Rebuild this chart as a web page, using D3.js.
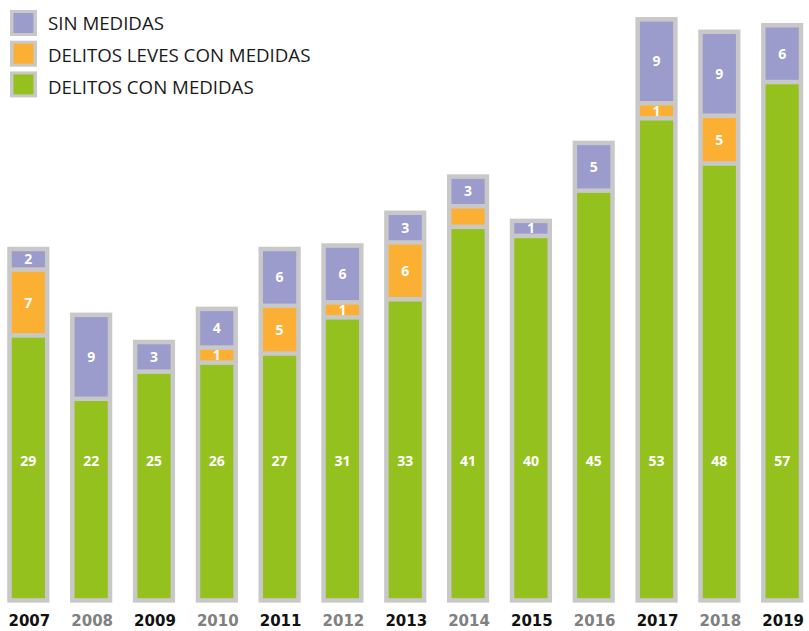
<!DOCTYPE html>
<html lang="es">
<head>
  <meta charset="UTF-8">
  <title>Delitos con y sin medidas</title>
  <script src="https://d3js.org/d3.v7.min.js"></script>
  <style>
    body { margin: 0; background: #fff; }
    .seg-label {
      font-family: "Open Sans", sans-serif;
      font-weight: bold;
      font-size: 14px;
      fill: #fff;
      text-anchor: middle;
    }
    .year {
      font-family: "DejaVu Sans", sans-serif;
      font-weight: bold;
      font-size: 15px;
      text-anchor: middle;
    }
    .legend-text {
      font-family: "Open Sans", sans-serif;
      font-size: 18.7px;
      fill: #1a1a1a;
    }
  </style>
</head>
<body>
  <div id="chart"></div>
  <script>
    const years = ["2007", "2008", "2009", "2010", "2011", "2012", "2013",
                   "2014", "2015", "2016", "2017", "2018", "2019"];
    const conMedidas = [29, 22, 25, 26, 27, 31, 33, 41, 40, 45, 53, 48, 57];
    const levesConMedidas = [7, 0, 0, 1, 5, 1, 6, 2, 0, 0, 1, 5, 0];
    const sinMedidas = [2, 9, 3, 4, 6, 6, 3, 3, 1, 5, 9, 9, 6];
    // the 2014 orange block has no number printed on it
    const hiddenLabels = [["2014", "leves"]];

    const series = [
      { key: "con", name: "DELITOS CON MEDIDAS", values: conMedidas, color: "#95c11f" },
      { key: "leves", name: "DELITOS LEVES CON MEDIDAS", values: levesConMedidas, color: "#fbb034" },
      { key: "sin", name: "SIN MEDIDAS", values: sinMedidas, color: "#9b9bcc" }
    ];

    const width = 809, height = 631;
    const border = "#c8c8c8";
    const gap = 4.5;       // grey frame / separator thickness
    const segPad = 2.5;    // each block grows by its frame
    const minSeg = 15;     // small blocks stay tall enough for their number

    const svg = d3.select("#chart").append("svg")
      .attr("width", width)
      .attr("height", height);

    const x = d3.scaleBand()
      .domain(years)
      .range([9.5, 801])
      .paddingInner(0.4)
      .paddingOuter(0);

    const baseline = 600.4;
    const y = d3.scaleLinear()
      .domain([0, 10])
      .range([baseline, baseline - 90.5]);

    // build stacked blocks
    const bars = years.map((yr, i) => {
      let bottom = baseline;
      const segs = [];
      series.forEach(s => {
        const v = s.values[i];
        if (!v) return;
        const h = Math.max(y(0) - y(v) + segPad, minSeg);
        const top = bottom - h;
        segs.push({ year: yr, key: s.key, value: v, color: s.color, top, bottom });
        bottom = top;
      });
      return { year: yr, segs, top: bottom };
    });

    const g = svg.selectAll(".bar")
      .data(bars)
      .enter().append("g")
      .attr("class", "bar");

    // grey frame
    g.append("rect")
      .attr("x", d => x(d.year) - gap / 2)
      .attr("width", x.bandwidth() + gap)
      .attr("y", d => d.top - gap / 2)
      .attr("height", d => baseline - d.top + gap)
      .attr("fill", border);

    const seg = g.selectAll(".seg")
      .data(d => d.segs)
      .enter().append("g")
      .attr("class", "seg");

    seg.append("rect")
      .attr("x", d => x(d.year) + gap / 2)
      .attr("width", x.bandwidth() - gap)
      .attr("y", d => d.top + gap / 2)
      .attr("height", d => d.bottom - d.top - gap)
      .attr("fill", d => d.color);

    seg.filter(d => !hiddenLabels.some(h => h[0] === d.year && h[1] === d.key))
      .append("text")
      .attr("class", "seg-label")
      .attr("x", d => x(d.year) + x.bandwidth() / 2)
      .attr("y", d => d.key === "con" ? 466 : (d.top + d.bottom) / 2 + 5)
      .text(d => d.value);

    // year labels
    svg.selectAll(".year")
      .data(years)
      .enter().append("text")
      .attr("class", "year")
      .attr("x", d => x(d) + x.bandwidth() / 2 + 1)
      .attr("y", 626)
      .attr("fill", (d, i) => i % 2 === 0 ? "#111" : "#808080")
      .text(d => d);

    // legend
    const legendItems = series.slice().reverse();
    const lg = svg.selectAll(".legend")
      .data(legendItems)
      .enter().append("g")
      .attr("class", "legend");

    lg.append("rect")
      .attr("x", 10)
      .attr("y", (d, i) => 10 + i * 30.7)
      .attr("width", 27).attr("height", 26)
      .attr("fill", border);
    lg.append("rect")
      .attr("x", 13.5)
      .attr("y", (d, i) => 13 + i * 30.7)
      .attr("width", 20).attr("height", 20)
      .attr("fill", d => d.color);
    lg.append("text")
      .attr("class", "legend-text")
      .attr("x", 48)
      .attr("y", (d, i) => 30 + i * 32)
      .text(d => d.name);
  </script>
</body>
</html>
